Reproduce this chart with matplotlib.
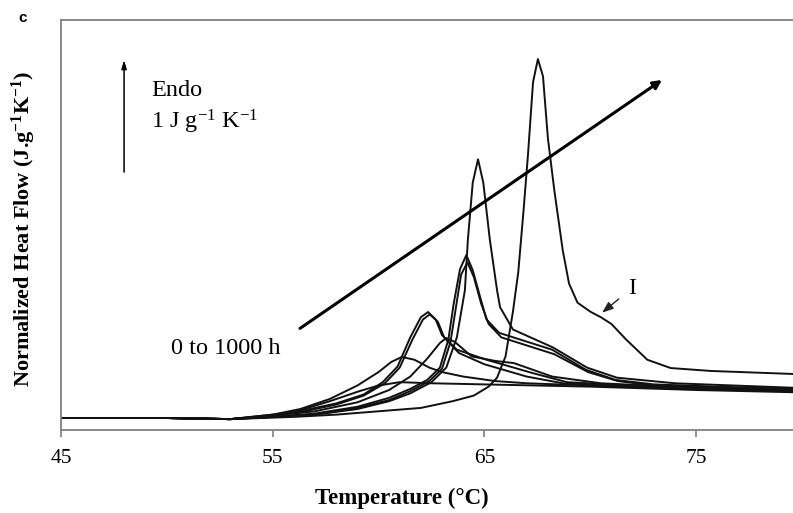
import numpy as np
import matplotlib
matplotlib.use('Agg')
import matplotlib.pyplot as plt

plt.rcParams['font.family'] = 'Liberation Serif'
plt.rcParams['mathtext.fontset'] = 'custom'
plt.rcParams['mathtext.rm'] = 'Liberation Serif'
plt.rcParams['mathtext.bf'] = 'Liberation Serif:bold'
plt.rcParams['mathtext.default'] = 'regular'

# DSC scans, 0 to 1000 h of ageing (heat flow in J g-1 K-1, pre-melt baseline = 0)
t_a = [45, 50, 53, 55, 56.3, 57.7, 59.1, 60.0, 61.0, 62.5, 65, 70, 75, 79.6]
hf_a = [0, 0, -0.01, 0.02, 0.07, 0.15, 0.24, 0.29, 0.32, 0.31, 0.30, 0.28, 0.25, 0.23]

t_b = [45, 50, 53, 55, 56.3, 57.7, 59.0, 60.0, 60.6, 61.1, 61.7, 62.4, 63.0, 64.0, 65.5, 67, 70, 75, 79.6]
hf_b = [0, 0, -0.01, 0.03, 0.08, 0.17, 0.29, 0.41, 0.50, 0.545, 0.52, 0.45, 0.41, 0.37, 0.33, 0.31, 0.29, 0.26, 0.24]

t_c1 = [45, 50, 53, 55, 56.5, 58.0, 59.3, 60.2, 60.9, 61.5, 62.0, 62.34, 62.7, 63.0, 63.7, 65.1, 67.3, 68.9, 72, 75, 79.6]
hf_c1 = [0, 0, -0.01, 0.03, 0.07, 0.13, 0.21, 0.32, 0.46, 0.72, 0.90, 0.946, 0.88, 0.74, 0.61, 0.52, 0.40, 0.32, 0.29, 0.27, 0.25]

t_c2 = [45, 50, 53, 55, 56.5, 58.0, 59.3, 60.3, 61.0, 61.6, 62.1, 62.42, 62.8, 63.1, 63.8, 65.0, 67.0, 68.7, 72, 75, 79.6]
hf_c2 = [0, 0, -0.01, 0.02, 0.06, 0.12, 0.20, 0.31, 0.45, 0.70, 0.88, 0.925, 0.86, 0.72, 0.58, 0.48, 0.37, 0.31, 0.28, 0.26, 0.24]

t_d = [45, 50, 53, 55, 57, 59, 60.5, 61.5, 62.3, 62.9, 63.2, 63.6, 64.4, 65.5, 66.4, 68.2, 70.5, 75, 79.6]
hf_d = [0, 0, -0.01, 0.02, 0.06, 0.14, 0.25, 0.37, 0.53, 0.67, 0.714, 0.68, 0.55, 0.51, 0.49, 0.37, 0.31, 0.27, 0.24]

t_e1 = [45, 50, 53, 55, 57, 59, 60.5, 61.5, 62.3, 62.9, 63.3, 63.55, 63.85, 64.15, 64.45, 64.8, 65.1, 65.7, 66.7, 68.2, 69.8, 71.2, 73, 76, 79.6]
hf_e1 = [0, 0, -0.01, 0.01, 0.04, 0.10, 0.18, 0.26, 0.34, 0.45, 0.70, 1.02, 1.33, 1.455, 1.32, 1.08, 0.88, 0.76, 0.70, 0.61, 0.43, 0.34, 0.30, 0.28, 0.26]

t_e2 = [45, 50, 53, 55, 57, 59, 60.5, 61.5, 62.4, 63.0, 63.4, 63.65, 63.9, 64.2, 64.5, 64.85, 65.2, 65.8, 66.8, 68.3, 69.9, 71.3, 73, 76, 79.6]
hf_e2 = [0, 0, -0.01, 0.01, 0.03, 0.09, 0.16, 0.24, 0.33, 0.44, 0.68, 0.98, 1.28, 1.39, 1.26, 1.02, 0.84, 0.72, 0.66, 0.57, 0.41, 0.33, 0.29, 0.27, 0.25]

t_f = [45, 50, 53, 55, 57, 59, 60.5, 61.5, 62.5, 63.2, 63.7, 64.08, 64.22, 64.45, 64.7, 64.95, 65.26, 65.6, 65.74, 66.35, 68.24, 69.85, 71.26, 74, 79.6]
hf_f = [0, 0, -0.01, 0.01, 0.03, 0.08, 0.15, 0.22, 0.32, 0.45, 0.72, 1.14, 1.59, 2.1, 2.31, 2.1, 1.59, 1.14, 0.99, 0.79, 0.63, 0.45, 0.36, 0.31, 0.27]

t_g = [45, 50, 53, 56, 58, 60, 62, 63.5, 64.5, 65.2, 65.6, 66.0, 66.35, 66.6, 66.85, 67.06, 67.3, 67.53, 67.77, 68.0, 68.3, 68.7, 69.0, 69.4, 70.0, 70.5, 71.0, 71.7, 72.7, 73.8, 75.7, 79.6]
hf_g = [0, 0, -0.01, 0.01, 0.03, 0.06, 0.09, 0.15, 0.2, 0.28, 0.36, 0.55, 0.95, 1.3, 1.85, 2.35, 3.0, 3.205, 3.05, 2.5, 2.04, 1.5, 1.2, 1.03, 0.95, 0.90, 0.84, 0.70, 0.52, 0.446, 0.42, 0.393]

curves = [(t_a, hf_a), (t_b, hf_b), (t_c1, hf_c1), (t_c2, hf_c2), (t_d, hf_d),
          (t_e1, hf_e1), (t_e2, hf_e2), (t_f, hf_f), (t_g, hf_g)]

xticks = [45, 55, 65, 75]

fig = plt.figure(figsize=(7.93, 5.13), dpi=100)
ax = fig.add_axes([61/793, 83/513, 732/793, 410/513])

for t, hf in curves:
    ax.plot(t, hf, color='#111111', linewidth=1.4, solid_joinstyle='round')

ax.set_xlim(45, 79.58)
ax.set_ylim(-12/112, 398/112)
ax.set_xticks(xticks)
ax.set_yticks([])
ax.tick_params(axis='x', direction='out', length=5, width=1.2, color='#808080',
               labelsize=15.5, pad=9)
for side in ['left', 'bottom', 'top']:
    ax.spines[side].set_color('#808080')
    ax.spines[side].set_linewidth(1.3)
ax.spines['right'].set_visible(False)

ax.set_xlabel('Temperature (°C)', fontsize=16.5, fontweight='bold')
ax.xaxis.set_label_coords((402 - 61)/732, -58/410)
ax.set_ylabel(r'Normalized Heat Flow (J.g$\mathbf{^{-1}}$K$\mathbf{^{-1}}$)',
              fontsize=16, fontweight='bold')
ax.yaxis.set_label_coords(-23/732, 0.49)

# scale arrow: 1 J g-1 K-1
ax.annotate('', xy=(47.98, 3.196), xytext=(47.98, 2.196),
            arrowprops=dict(arrowstyle='-|>,head_length=0.5,head_width=0.15',
                            color='black', lw=1.1, shrinkA=0, shrinkB=0))
ax.text(49.25, 2.92, 'Endo', fontsize=17.5, va='center', ha='left')
ax.text(49.25, 2.64, r'1 J g$^{-1}$ K$^{-1}$', fontsize=17.5, va='center', ha='left')

# ageing-time arrow
ax.annotate('', xy=(73.39, 3.018), xytext=(56.29, 0.80),
            arrowprops=dict(arrowstyle='-|>,head_length=0.5,head_width=0.25',
                            color='black', lw=2.2, shrinkA=0, shrinkB=0))
ax.text(50.2, 0.62, '0 to 1000 h', fontsize=17.5, va='center', ha='left')

# shoulder marker
ax.annotate('I', xy=(70.56, 0.94), xytext=(71.97, 1.16), fontsize=17,
            ha='center', va='center',
            arrowprops=dict(arrowstyle='-|>,head_length=0.4,head_width=0.15',
                            color='#222222', lw=1.0, shrinkA=6, shrinkB=0))

fig.text(23/793, 1 - 18/513, 'c', fontsize=11, fontweight='bold',
         family='Liberation Sans', ha='center', va='center')

fig.savefig('out.png', dpi=100)
